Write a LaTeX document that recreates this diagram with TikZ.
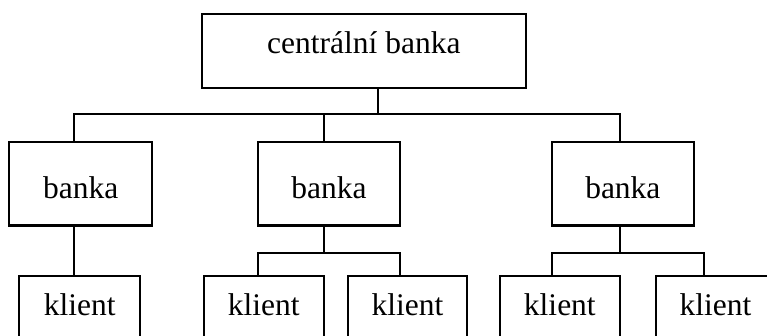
\documentclass[tikz,border=0pt]{standalone}
\usepackage{fontspec}
\setmainfont{Liberation Serif}
\begin{document}
\begin{tikzpicture}[x=1pt,y=-1pt,
  box/.style={draw=black, line width=2.1pt, rectangle, inner sep=0pt,
    font=\fontsize{31.5}{36}\selectfont, text depth=0pt},
  toprow/.style={box, text height=4.6pt},
  midrow/.style={box, text height=29.4pt},
  botrow/.style={box, text height=5.4pt},
  conn/.style={draw=black, line width=1.8pt}]
\clip (0,0) rectangle (767,336);
\fill[white] (0,0) rectangle (767,336);
% top
\node[toprow, minimum width=324.3pt, minimum height=74pt] (top) at (363.85,51) {centrální banka};
% banks
\node[midrow, minimum width=143pt, minimum height=83.8pt] (b1) at (80.8,183.6) {banka};
\node[midrow, minimum width=142.6pt, minimum height=83.8pt] (b2) at (329,183.6) {banka};
\node[midrow, minimum width=142.3pt, minimum height=83.8pt] (b3) at (622.85,183.6) {banka};
% clients
\node[botrow, minimum width=120.7pt, minimum height=74pt] (k1) at (79.65,313) {klient};
\node[botrow, minimum width=120pt, minimum height=74pt] (k2) at (263.7,313) {klient};
\node[botrow, minimum width=119.6pt, minimum height=74pt] (k3) at (407.5,313) {klient};
\node[botrow, minimum width=120.3pt, minimum height=74pt] (k4) at (559.85,313) {klient};
\node[botrow, minimum width=119pt, minimum height=74pt] (k5) at (715.5,313) {klient};
% junctions
\coordinate (j0) at (378,114);
\coordinate (c1) at (74,114);
\coordinate (c2) at (324,114);
\coordinate (c3) at (620,114);
\coordinate (m) at (324,253);
\coordinate (m1) at (258,253);
\coordinate (m2) at (400,253);
\coordinate (r) at (620,253);
\coordinate (r1) at (552,253);
\coordinate (r2) at (704,253);
% connectors
\draw[conn] (top.south -| j0) -- (j0);
\draw[conn] (b1.north -| c1) -- (c1) -- (c3) -- (b3.north -| c3);
\draw[conn] (c2) -- (b2.north -| c2);
\draw[conn] (b1.south -| c1) -- (k1.north -| c1);
\draw[conn] (b2.south -| m) -- (m);
\draw[conn] (k2.north -| m1) -- (m1) -- (m2) -- (k3.north -| m2);
\draw[conn] (b3.south -| r) -- (r);
\draw[conn] (k4.north -| r1) -- (r1) -- (r2) -- (k5.north -| r2);
\end{tikzpicture}
\end{document}
